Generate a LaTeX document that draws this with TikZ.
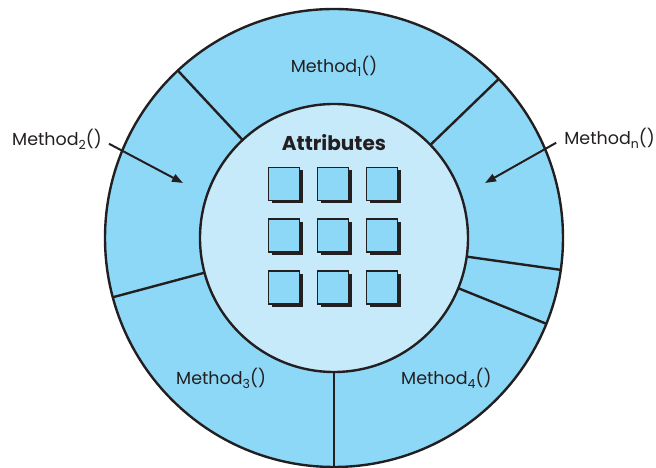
\documentclass[tikz,border=0pt]{standalone}
\usepackage{fontspec}
\setmainfont{Poppins}
\usetikzlibrary{arrows.meta, positioning, shadows, calc}
\definecolor{ringblue}{HTML}{8DD8F7}
\definecolor{coreblue}{HTML}{C7EAFA}
\definecolor{inkdark}{HTML}{231F20}
\newcommand{\lowidx}[1]{\raisebox{-0.4ex}{\fontsize{12.5}{12.5}\selectfont#1}}
\tikzset{
  ring/.style={circle, inner sep=0pt, outer sep=0pt, draw=inkdark, line width=2.4pt},
  attr/.style={draw=inkdark, fill=ringblue, line width=1.6pt, minimum width=31pt, minimum height=33pt,
    inner sep=0pt, drop shadow={shadow xshift=3pt, shadow yshift=-3pt, fill=inkdark, opacity=1}},
  meth/.style={font=\fontsize{17.5}{17.5}\selectfont, inner sep=0pt, text=inkdark},
  call/.style={line width=2pt, draw=inkdark, -{Triangle[length=11pt,width=8pt]}}
}

\begin{document}
\begin{tikzpicture}[x=1pt,y=1pt]
  \useasboundingbox (0,0) rectangle (656,468);
  \node[ring, fill=ringblue, minimum size=458pt] (outer) at (334,230) {};
  \node[ring, fill=coreblue, minimum size=268pt] (core) at (334,230) {};
  \foreach \a in {133,44,-8,-22,-90,195}
    \draw[inkdark, line width=2.4pt] (core.\a) -- (outer.\a);

  \node[font=\bfseries\fontsize{20}{20}\selectfont, text=inkdark, inner sep=0pt, anchor=base] (attrs) at (334,317) {Attributes};
  \foreach \i in {0,1,2}
    \foreach \j in {0,1,2}
      \node[attr] (a\i\j) at (284+49*\i, 284-51.7*\j) {};

  \node[meth, anchor=base] (m1) at (334,395) {Method\lowidx{1}()};
  \node[meth, anchor=base west] (m2) at (12,322) {Method\lowidx{2}()};
  \node[meth, anchor=base east] (mn) at (655,323) {Method\lowidx{n}()};
  \node[meth, anchor=base west] (m3) at (176,83) {Method\lowidx{3}()};
  \node[meth, anchor=base west] (m4) at (401,83) {Method\lowidx{4}()};

  \coordinate (t2) at (183,285);
  \coordinate (tn) at (485,285);
  \draw[call] ($(m2.east)+(7,-4)$) -- (t2);
  \draw[call] ($(mn.west)+(-8,-4)$) -- (tn);
\end{tikzpicture}
\end{document}
